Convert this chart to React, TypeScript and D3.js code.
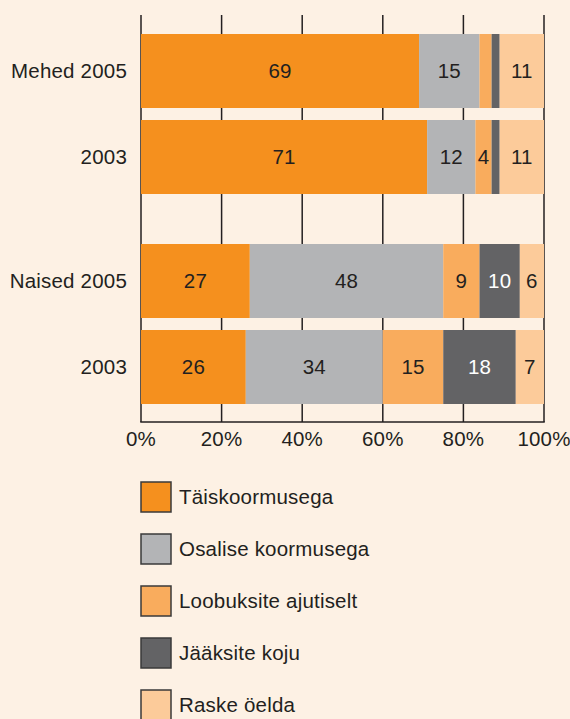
import React from 'react';
import * as d3 from 'd3';

// series names (legend order = stack order)
const categories = ['Täiskoormusega', 'Osalise koormusega', 'Loobuksite ajutiselt', 'Jääksite koju', 'Raske öelda'];
const colors = ['#f5901e', '#b3b4b6', '#f9ac5d', '#636365', '#fccb9a'];

const groups = ['Mehed', 'Naised'];
const years = ['2005', '2003'];
const rowLabels = [['Mehed 2005', '2003'], ['Naised 2005', '2003']];

// percentages per row
const mehed2005 = [69, 15, 3, 2, 11];
const mehed2003 = [71, 12, 4, 2, 11];
const naised2005 = [27, 48, 9, 10, 6];
const naised2003 = [26, 34, 15, 18, 7];

const xTicks = [0, 20, 40, 60, 80, 100];

const rows = [
  { group: 'Mehed', year: '2005', label: rowLabels[0][0], values: mehed2005 },
  { group: 'Mehed', year: '2003', label: rowLabels[0][1], values: mehed2003 },
  { group: 'Naised', year: '2005', label: rowLabels[1][0], values: naised2005 },
  { group: 'Naised', year: '2003', label: rowLabels[1][1], values: naised2003 },
];

const width = 570;
const height = 719;
const font = '"Liberation Sans", Arial, Helvetica, sans-serif';
const ink = '#231f20';
const fs = 20.5;
const ls = 0.2;

export default function App() {
  const x = d3.scaleLinear().domain([0, 100]).range([141, 544]);

  const outer = d3.scaleBand().domain(groups).range([34, 404]).paddingInner(50 / 210).paddingOuter(0);
  const inner = d3.scaleBand().domain(years).range([0, outer.bandwidth()]).paddingInner(12 / 86).paddingOuter(0);

  const gridTop = 15;
  const axisY = 422;

  const stacked = rows.map(r => {
    let acc = 0;
    return r.values.map((v, i) => {
      const s = { i, v, x0: acc, x1: acc + v };
      acc += v;
      return s;
    });
  });

  const legendY = d3.scalePoint().domain(categories).range([482, 482 + 52 * 4]);

  return (
    <svg width={width} height={height} style={{ position: 'absolute', left: 0, top: 0, fontFamily: font }}>
      <rect width={width} height={height} fill="#fdf1e4" />

      {/* gridlines */}
      {xTicks.map(t => (
        <line key={t} x1={x(t)} x2={x(t)} y1={gridTop} y2={axisY} stroke={ink} strokeWidth={1.5} />
      ))}

      {/* bars */}
      {rows.map((r, ri) => {
        const y0 = (outer(r.group) as number) + (inner(r.year) as number);
        const bh = inner.bandwidth();
        return (
          <g key={ri}>
            {stacked[ri].map(s => (
              <rect key={s.i} x={x(s.x0)} y={y0} width={x(s.x1) - x(s.x0)} height={bh} fill={colors[s.i]} />
            ))}
            {stacked[ri].filter(s => s.v >= 4).map(s => (
              <text key={'t' + s.i} x={(x(s.x0) + x(s.x1)) / 2} y={y0 + bh / 2} dy="0.36em"
                textAnchor="middle" fontSize={fs} letterSpacing={ls} fill={s.i === 3 ? '#ffffff' : ink}>
                {s.v}
              </text>
            ))}
            <text x={127} y={y0 + bh / 2} dy="0.36em" textAnchor="end" fontSize={fs} letterSpacing={ls} fill={ink}>
              {r.label}
            </text>
          </g>
        );
      })}

      {/* x axis */}
      <line x1={x(0) - 0.75} x2={x(100) + 0.75} y1={axisY} y2={axisY} stroke={ink} strokeWidth={1.5} />
      {xTicks.map(t => (
        <text key={t} x={x(t)} y={446} textAnchor="middle" fontSize={fs} letterSpacing={ls} fill={ink}>{t}%</text>
      ))}

      {/* legend */}
      {categories.map((c, i) => {
        const ly = legendY(c) as number;
        return (
          <g key={c}>
            <rect x={141} y={ly} width={30} height={30} fill={colors[i]} stroke="#3a3a3a" strokeWidth={1.5} />
            <text x={179} y={ly + 15} dy="0.36em" fontSize={fs} letterSpacing={ls} fill={ink}>{c}</text>
          </g>
        );
      })}
    </svg>
  );
}
